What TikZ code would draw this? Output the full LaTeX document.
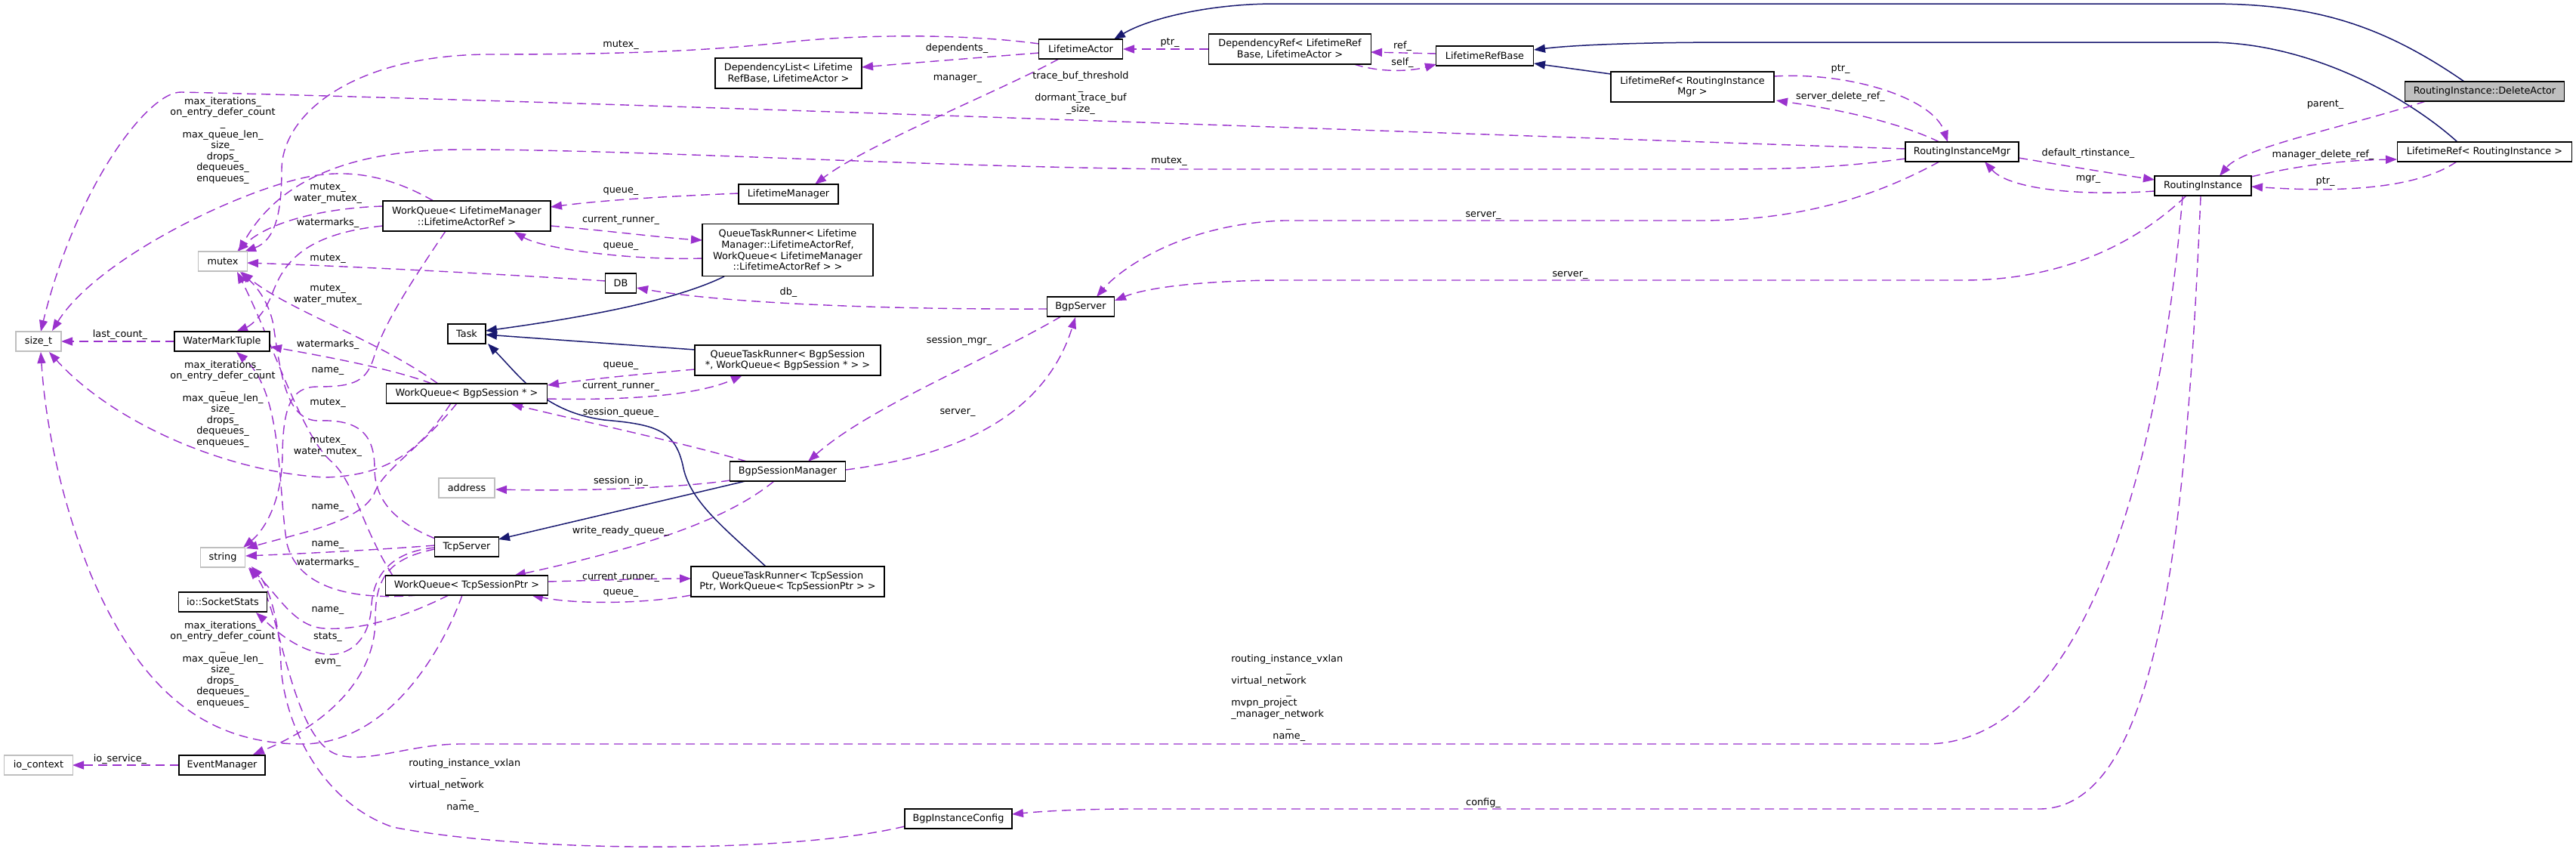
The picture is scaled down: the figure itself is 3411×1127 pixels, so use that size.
\documentclass[tikz,border=0pt]{standalone}
\usepackage{fontspec}
\setmainfont{DejaVu Sans}
\usetikzlibrary{arrows.meta,calc}
\definecolor{epurple}{HTML}{9A32CD}
\definecolor{enavy}{HTML}{191970}
\definecolor{extgray}{HTML}{BFBFBF}
\pgfdeclarelayer{bg}
\pgfsetlayers{bg,main}
\begin{document}
\begin{tikzpicture}[x=0.2mm,y=-0.2mm,
  every node/.style={font=\fontsize{7.3}{8.3}\selectfont},
  cls/.style={draw=black, line width=0.3mm, fill=white, inner sep=0pt, align=center, minimum height=5.2mm},
  ext/.style={cls, draw=extgray},
  bw/.style={minimum width=#1*0.2mm},
  bh/.style={minimum height=#1*0.2mm},
  uses/.style={draw=epurple, line width=0.28mm, dash pattern=on 2.4mm off 1.4mm, -{Triangle[length=3mm,width=2.2mm]}},
  inh/.style={draw=enavy, line width=0.3mm, -{Triangle[length=3mm,width=2.2mm]}},
  lab/.style={inner sep=0pt, align=center},
]
\useasboundingbox (0,0) rectangle (3411,1127);

% ---------- nodes ----------
\node[cls, fill=extgray, bw=211] (del) at (3290,121) {RoutingInstance::DeleteActor};
\node[cls, bw=111] (la) at (1431,65) {LifetimeActor};
\node[cls, bw=215, bh=40] (dr) at (1708,65) {DependencyRef< LifetimeRef\\Base, LifetimeActor >};
\node[cls, bw=129] (lrb) at (1966,74) {LifetimeRefBase};
\node[cls, bw=194, bh=40] (dl) at (1044,97) {DependencyList< Lifetime\\RefBase, LifetimeActor >};
\node[cls, bw=216, bh=40] (lrm) at (2241,115) {LifetimeRef< RoutingInstance\\Mgr >};
\node[cls, bw=150] (rim) at (2598,201) {RoutingInstanceMgr};
\node[cls, bw=128] (ri) at (2917,246) {RoutingInstance};
\node[cls, bw=231] (lri) at (3290,201) {LifetimeRef< RoutingInstance >};
\node[cls, bw=132] (lm) at (1044,257) {LifetimeManager};
\node[cls, bw=222, bh=40] (wqlm) at (618,286) {WorkQueue< LifetimeManager\\::LifetimeActorRef >};
\node[cls, bw=226, bh=69] (qtrlm) at (1043,331) {QueueTaskRunner< Lifetime\\Manager::LifetimeActorRef,\\WorkQueue< LifetimeManager\\::LifetimeActorRef > >};
\node[ext, bw=65] (mutex) at (295,346) {mutex};
\node[cls, bw=41] (db) at (822,375) {DB};
\node[cls, bw=89] (bgps) at (1431,406) {BgpServer};
\node[cls, bw=50] (task) at (618,442) {Task};
\node[ext, bw=60] (sizet) at (51,452) {size\_t};
\node[cls, bw=126] (wmt) at (294,452) {WaterMarkTuple};
\node[cls, bw=246, bh=40] (qtrbs) at (1043,477) {QueueTaskRunner< BgpSession\\{}*, WorkQueue< BgpSession * > >};
\node[cls, bw=213] (wqbs) at (618,521) {WorkQueue< BgpSession * >};
\node[cls, bw=153] (bsm) at (1043,624) {BgpSessionManager};
\node[ext, bw=74] (addr) at (618,646) {address};
\node[cls, bw=85] (tcps) at (618,724) {TcpServer};
\node[ext, bw=59] (string) at (295,738) {string};
\node[cls, bw=215] (wqts) at (618,775) {WorkQueue< TcpSessionPtr >};
\node[cls, bw=256, bh=40] (qtrts) at (1043,770) {QueueTaskRunner< TcpSession\\Ptr, WorkQueue< TcpSessionPtr > >};
\node[cls, bw=117] (ss) at (295,797) {io::SocketStats};
\node[ext, bw=91] (ioc) at (51,1013) {io\_context};
\node[cls, bw=114] (evm) at (294,1013) {EventManager};
\node[cls, bw=142] (bic) at (1269,1084) {BgpInstanceConfig};

% ---------- edges ----------
\begin{pgfonlayer}{bg}
% inheritance
\draw[inh] ($(del)+(-27,-13)$) .. controls (3150,30) and (3060,5) .. (2924,5) -- (1689,5) .. controls (1600,5) and (1520,25) .. ($(la)+(44,-13)$);
\draw[inh] ($(lri)+(-36,-13)$) .. controls (3190,130) and (3060,56) .. (2924,56) -- (2300,56) .. controls (2160,56) and (2080,60) .. ($(lrb)+(65,-8)$);
\draw[inh] ($(lrm)+(-108,-17)$) -- ($(lrb)+(65,10)$);
\draw[inh] ($(qtrlm)+(-84,35)$) .. controls (890,400) and (760,422) .. ($(task)+(25,-4)$);
\draw[inh] ($(qtrbs)+(-123,-14)$) -- ($(task)+(25,1)$);
\draw[inh] ($(qtrts)+(-29,-20)$) .. controls (960,700) and (915,665) .. (905,620) .. controls (895,570) and (870,562) .. (800,556) .. controls (720,545) and (690,500) .. ($(task)+(28,13)$);
\draw[inh] ($(bsm)+(-56,13)$) -- ($(tcps)+(42,-10)$);

% usage
\draw[uses] ($(la)+(-55,5)$) .. controls (1300,76) and (1200,84) .. ($(dl)+(97,-8)$);
\draw[uses] ($(dr)+(-108,0)$) -- ($(la)+(56,0)$);
\draw[uses] ($(lrb)+(-64,-3)$) -- ($(dr)+(107,4)$);
\draw[uses] ($(dr)+(85,20)$) .. controls (1830,97) and (1870,94) .. ($(lrb)+(-64,11)$);
\draw[uses] ($(la)+(-55,-7)$) .. controls (1280,45) and (1150,45) .. (1050,55) .. controls (950,66) and (850,72) .. (650,72) .. controls (470,72) and (373,150) .. (373,225) .. controls (373,280) and (365,318) .. ($(mutex)+(29,-13)$);
\draw[uses] ($(la)+(-29,13)$) .. controls (1330,118) and (1150,190) .. ($(lm)+(35,-13)$);
\draw[uses] ($(rim)+(-75,-4)$) .. controls (2000,180) and (800,135) .. (240,122) .. controls (195,121) and (100,250) .. ($(sizet)+(3,-13)$);
\draw[uses] ($(rim)+(-75,9)$) .. controls (2420,224) and (2350,224) .. (2250,224) -- (1550,224) .. controls (1200,220) and (850,198) .. (612,198) .. controls (470,198) and (370,235) .. ($(mutex)+(21,-13)$);
\draw[uses] ($(lrm)+(108,-14)$) .. controls (2450,95) and (2560,130) .. ($(rim)+(-19,-13)$);
\draw[uses] ($(rim)+(-30,-13)$) .. controls (2500,155) and (2400,140) .. ($(lrm)+(111,18)$);
\draw[uses] ($(rim)+(75,8)$) .. controls (2750,222) and (2800,230) .. ($(ri)+(-64,-8)$);
\draw[uses] ($(ri)+(-64,7)$) .. controls (2750,260) and (2660,250) .. ($(rim)+(30,13)$);
\draw[uses] ($(del)+(-78,13)$) .. controls (3100,170) and (2970,195) .. ($(ri)+(22,-13)$);
\draw[uses] ($(ri)+(64,-12)$) .. controls (3060,215) and (3120,212) .. ($(lri)+(-116,10)$);
\draw[uses] ($(lri)+(-37,13)$) .. controls (3200,250) and (3100,255) .. ($(ri)+(64,1)$);
\draw[uses] ($(rim)+(-30,13)$) .. controls (2480,262) and (2380,292) .. (2250,292) -- (1700,292) .. controls (1560,297) and (1480,360) .. ($(bgps)+(21,-13)$);
\draw[uses] ($(ri)+(-23,14)$) .. controls (2820,330) and (2720,371) .. (2600,371) -- (1700,371) .. controls (1600,371) and (1520,380) .. ($(bgps)+(45,-8)$);
\draw[uses] ($(ri)+(-27,14)$) .. controls (2860,620) and (2760,985) .. (2550,985) -- (610,985) .. controls (545,985) and (490,1010) .. (450,1000) .. controls (385,985) and (372,800) .. ($(string)+(34,14)$);
\draw[uses] ($(ri)+(-3,14)$) .. controls (2895,700) and (2860,1071) .. (2700,1071) -- (1500,1071) .. controls (1420,1071) and (1370,1075) .. ($(bic)+(71,-6)$);
\draw[uses] ($(bic)+(-71,10)$) .. controls (1050,1130) and (700,1130) .. (520,1095) .. controls (420,1060) and (375,950) .. (372,880) .. controls (370,820) and (355,775) .. ($(string)+(38,12)$);
\draw[uses] ($(lm)+(-66,-1)$) .. controls (880,260) and (800,265) .. ($(wqlm)+(111,-12)$);
\draw[uses] ($(wqlm)+(111,13)$) .. controls (800,305) and (880,315) .. ($(qtrlm)+(-113,-13)$);
\draw[uses] ($(qtrlm)+(-113,11)$) .. controls (840,345) and (720,330) .. ($(wqlm)+(63,21)$);
\draw[uses] ($(wqlm)+(-44,-20)$) .. controls (520,235) and (470,225) .. (420,232) .. controls (330,245) and (130,340) .. ($(sizet)+(18,-14)$);
\draw[uses] ($(wqlm)+(-111,-13)$) .. controls (440,275) and (360,290) .. ($(mutex)+(19,-13)$);
\draw[uses] ($(wqlm)+(-111,13)$) .. controls (400,310) and (375,350) .. (360,390) .. controls (348,420) and (330,432) .. ($(wmt)+(19,-13)$);
\draw[uses] ($(wqlm)+(-28,20)$) .. controls (540,380) and (508,430) .. (496,470) .. controls (486,505) and (470,512) .. (420,512) .. controls (385,512) and (375,540) .. (374,600) .. controls (374,660) and (352,700) .. ($(string)+(27,-13)$);
\draw[uses] ($(db)+(-20,-3)$) .. controls (650,362) and (450,352) .. ($(mutex)+(32,2)$);
\draw[uses] ($(bgps)+(-44,3)$) .. controls (1150,410) and (950,400) .. ($(db)+(21,6)$);
\draw[uses] ($(wmt)+(-63,0)$) -- ($(sizet)+(30,0)$);
\draw[uses] ($(qtrbs)+(-123,12)$) .. controls (850,495) and (780,502) .. ($(wqbs)+(107,-11)$);
\draw[uses] ($(wqbs)+(107,7)$) .. controls (820,530) and (920,525) .. ($(qtrbs)+(-60,20)$);
\draw[uses] ($(wqbs)+(-38,-13)$) .. controls (500,450) and (380,410) .. ($(mutex)+(25,14)$);
\draw[uses] ($(wqbs)+(-46,-13)$) .. controls (520,488) and (420,470) .. ($(wmt)+(64,7)$);
\draw[uses] ($(wqbs)+(-21,13)$) .. controls (560,590) and (520,630) .. (430,632) .. controls (300,625) and (150,560) .. ($(sizet)+(14,14)$);
\draw[uses] ($(wqbs)+(-13,13)$) .. controls (560,590) and (510,620) .. (497,650) .. controls (482,690) and (400,705) .. ($(string)+(31,-12)$);
\draw[uses] ($(bsm)+(-54,-13)$) .. controls (900,585) and (780,560) .. ($(wqbs)+(59,14)$);
\draw[uses] ($(bgps)+(-26,13)$) .. controls (1300,480) and (1150,540) .. ($(bsm)+(27,-13)$);
\draw[uses] ($(bsm)+(77,-2)$) .. controls (1250,605) and (1380,560) .. ($(bgps)+(-7,14)$);
\draw[uses] ($(bsm)+(-76,12)$) .. controls (880,648) and (750,650) .. ($(addr)+(38,2)$);
\draw[uses] ($(bsm)+(-18,13)$) .. controls (960,690) and (850,725) .. ($(wqts)+(63,-13)$);
\draw[uses] ($(tcps)+(-42,-11)$) .. controls (520,690) and (496,660) .. (496,620) .. controls (496,570) and (470,555) .. (420,557) .. controls (380,555) and (372,500) .. (362,430) .. controls (355,395) and (335,375) .. ($(mutex)+(23,14)$);
\draw[uses] ($(tcps)+(-42,-2)$) .. controls (500,728) and (400,733) .. ($(string)+(30,-2)$);
\draw[uses] ($(tcps)+(-42,1)$) .. controls (520,730) and (495,760) .. (492,800) .. controls (490,850) and (460,870) .. (430,866) .. controls (390,860) and (360,830) .. ($(ss)+(44,14)$);
\draw[uses] ($(tcps)+(-42,3)$) .. controls (510,740) and (497,770) .. (497,820) .. controls (497,900) and (430,960) .. ($(evm)+(41,-14)$);
\draw[uses] ($(wqts)+(107,-5)$) .. controls (800,768) and (870,766) .. ($(qtrts)+(-128,-4)$);
\draw[uses] ($(qtrts)+(-128,18)$) .. controls (850,800) and (760,800) .. ($(wqts)+(86,13)$);
\draw[uses] ($(wqts)+(-98,-13)$) .. controls (480,700) and (470,640) .. (440,612) .. controls (400,580) and (360,450) .. ($(mutex)+(19,14)$);
\draw[uses] ($(wqts)+(-65,13)$) .. controls (470,795) and (395,780) .. (380,720) .. controls (368,650) and (375,520) .. ($(wmt)+(19,14)$);
\draw[uses] ($(wqts)+(-24,13)$) .. controls (540,815) and (480,835) .. (430,832) .. controls (390,830) and (370,790) .. ($(string)+(35,13)$);
\draw[uses] ($(wqts)+(-6,13)$) .. controls (590,850) and (520,985) .. (400,985) .. controls (260,985) and (180,900) .. (120,760) .. controls (80,660) and (60,560) .. ($(sizet)+(3,14)$);
\draw[uses] ($(evm)+(-57,0)$) -- ($(ioc)+(45,0)$);
\end{pgfonlayer}

% ---------- labels ----------
\node[lab] (l1) at (1267,64) {dependents\_};
\node[lab] (l2) at (1549,57) {ptr\_};
\node[lab] (l3) at (1857,61) {ref\_};
\node[lab] (l4) at (1857,83) {self\_};
\node[lab] (l5) at (822,60) {mutex\_};
\node[lab] (l6) at (1268,104) {manager\_};
\node[lab] (l7) at (1431,123) {trace\_buf\_threshold\\\_\\dormant\_trace\_buf\\\_size\_};
\node[lab] (l8) at (1548,214) {mutex\_};
\node[lab] (l9) at (2437,92) {ptr\_};
\node[lab] (l10) at (2437,128) {server\_delete\_ref\_};
\node[lab] (l11) at (2765,203) {default\_rtinstance\_};
\node[lab] (l12) at (2765,237) {mgr\_};
\node[lab] (l13) at (3079,139) {parent\_};
\node[lab] (l14) at (3076,205) {manager\_delete\_ref\_};
\node[lab] (l15) at (3079,241) {ptr\_};
\node[lab] (l16) at (1964,285) {server\_};
\node[lab] (l17) at (2079,364) {server\_};
\node[lab, anchor=north west, align=left] (l18) at (1630,866) {routing\_instance\_vxlan\\\hspace*{14.6mm}\_\\virtual\_network\\\hspace*{14.6mm}\_\\mvpn\_project\\\_manager\_network\\\hspace*{14.6mm}\_\\\hspace*{11mm}name\_};
\node[lab] (l19) at (1964,1063) {config\_};
\node[lab, anchor=north west, align=left] (l20) at (541,1004) {routing\_instance\_vxlan\\\hspace*{13.8mm}\_\\virtual\_network\\\hspace*{13.8mm}\_\\\hspace*{10mm}name\_};
\node[lab] (l21) at (822,253) {queue\_};
\node[lab] (l22) at (822,292) {current\_runner\_};
\node[lab] (l23) at (822,326) {queue\_};
\node[lab] (l24) at (295,186) {max\_iterations\_\\on\_entry\_defer\_count\\\_\\max\_queue\_len\_\\size\_\\drops\_\\dequeues\_\\enqueues\_};
\node[lab] (l25) at (434,256) {mutex\_\\water\_mutex\_};
\node[lab] (l26) at (434,295) {watermarks\_};
\node[lab] (l27) at (434,491) {name\_};
\node[lab] (l28) at (434,343) {mutex\_};
\node[lab] (l29) at (1044,387) {db\_};
\node[lab] (l30) at (159,443) {last\_count\_};
\node[lab] (l31) at (822,484) {queue\_};
\node[lab] (l32) at (822,512) {current\_runner\_};
\node[lab] (l33) at (434,390) {mutex\_\\water\_mutex\_};
\node[lab] (l34) at (434,456) {watermarks\_};
\node[lab] (l35) at (295,535) {max\_iterations\_\\on\_entry\_defer\_count\\\_\\max\_queue\_len\_\\size\_\\drops\_\\dequeues\_\\enqueues\_};
\node[lab] (l36) at (434,672) {name\_};
\node[lab] (l37) at (822,546) {session\_queue\_};
\node[lab] (l38) at (1270,451) {session\_mgr\_};
\node[lab] (l39) at (1268,546) {server\_};
\node[lab] (l40) at (822,637) {session\_ip\_};
\node[lab] (l41) at (822,703) {write\_ready\_queue\_};
\node[lab] (l42) at (434,533) {mutex\_};
\node[lab] (l43) at (434,721) {name\_};
\node[lab] (l44) at (434,843) {stats\_};
\node[lab] (l45) at (434,877) {evm\_};
\node[lab] (l46) at (822,764) {current\_runner\_};
\node[lab] (l47) at (822,785) {queue\_};
\node[lab] (l48) at (434,591) {mutex\_\\water\_mutex\_};
\node[lab] (l49) at (434,745) {watermarks\_};
\node[lab] (l50) at (434,808) {name\_};
\node[lab] (l51) at (295,880) {max\_iterations\_\\on\_entry\_defer\_count\\\_\\max\_queue\_len\_\\size\_\\drops\_\\dequeues\_\\enqueues\_};
\node[lab] (l52) at (159,1005) {io\_service\_};
\end{tikzpicture}
\end{document}
